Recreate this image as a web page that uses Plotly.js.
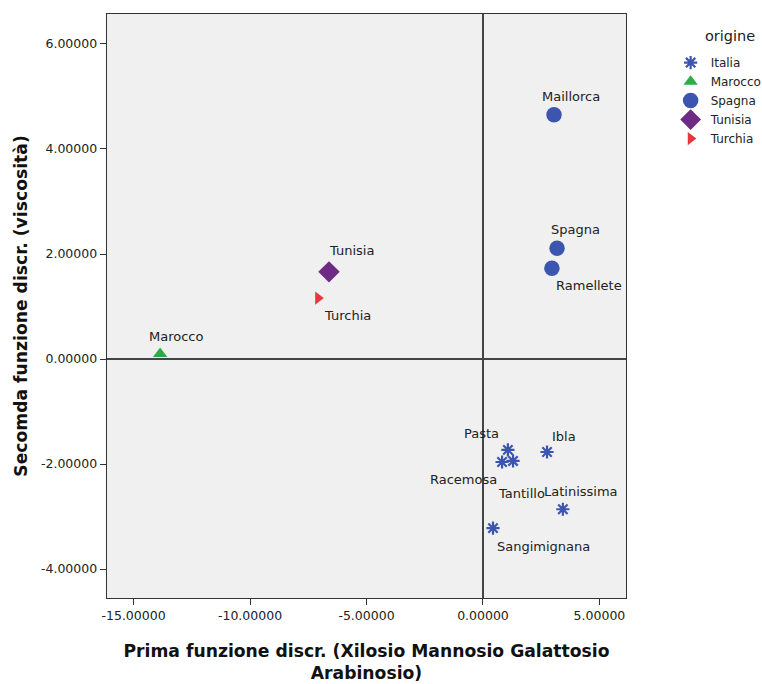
<!DOCTYPE html>
<html>
<head>
<meta charset="utf-8">
<script src="https://cdn.plot.ly/plotly-3.0.1.min.js"></script>
<style>html,body{margin:0;padding:0;background:#fff;}#chart{width:762px;height:684px;}</style>
</head>
<body>
<div id="chart"></div>
<script>
// Data
const origins = ["Italia", "Marocco", "Spagna", "Tunisia", "Turchia"];

const italiaNames = ["Pasta", "Ibla", "Racemosa", "Tantillo", "Latinissima", "Sangimignana"];
const italiaX = [1.07, 2.75, 0.82, 1.29, 3.43, 0.43];
const italiaY = [-1.73, -1.77, -1.96, -1.94, -2.86, -3.22];

const maroccoNames = ["Marocco"];
const maroccoX = [-13.86];
const maroccoY = [0.10];

const spagnaNames = ["Maillorca", "Spagna", "Ramellete"];
const spagnaX = [3.05, 3.18, 2.96];
const spagnaY = [4.65, 2.11, 1.73];

const tunisiaNames = ["Tunisia"];
const tunisiaX = [-6.61];
const tunisiaY = [1.66];

const turchiaNames = ["Turchia"];
const turchiaX = [-7.08];
const turchiaY = [1.16];

const xTickVals = [-15, -10, -5, 0, 5];
const yTickVals = [-4, -2, 0, 2, 4, 6];

const legendTitle = "origine";

// Styles (kept separate from data)
const FONT = "DejaVu Sans, Verdana, sans-serif";
const styles = {
  Italia:  {symbol: "asterisk-open", color: "#3c56b0", size: 11, line: 2.2},
  Marocco: {symbol: "triangle-up", color: "#2eab47", size: 12.5},
  Spagna:  {symbol: "circle", color: "#3c56b0", size: 15.5},
  Tunisia: {symbol: "diamond", color: "#6e2a84", size: 16.5},
  Turchia: {symbol: "triangle-right", color: "#e6373d", size: 11.5}
};
// label offsets in pixels (dx right, dy up)
const labelOffsets = {
  "Maillorca": [17, 18], "Spagna": [18, 19], "Ramellete": [37, -17],
  "Tunisia": [22, 21], "Turchia": [29, -17], "Marocco": [16, 17],
  "Pasta": [-26, 16], "Ibla": [17, 16], "Racemosa": [-39, -18],
  "Tantillo": [8, -33], "Latinissima": [18, 18], "Sangimignana": [51, -18]
};

const groups = [
  ["Italia", italiaNames, italiaX, italiaY],
  ["Marocco", maroccoNames, maroccoX, maroccoY],
  ["Spagna", spagnaNames, spagnaX, spagnaY],
  ["Tunisia", tunisiaNames, tunisiaX, tunisiaY],
  ["Turchia", turchiaNames, turchiaX, turchiaY]
];

const traces = [];
const annotations = [];
groups.forEach(([origin, names, xs, ys]) => {
  const s = styles[origin];
  const marker = {symbol: s.symbol, color: s.color, size: s.size};
  if (s.line) marker.line = {color: s.color, width: s.line};
  else marker.line = {width: 0};
  traces.push({
    type: "scatter", mode: "markers", name: origin,
    x: xs, y: ys, text: names, marker: marker, hoverinfo: "text+x+y"
  });
  names.forEach((n, i) => {
    const off = labelOffsets[n] || [0, 0];
    annotations.push({
      x: xs[i], y: ys[i], xref: "x", yref: "y", text: n, showarrow: false,
      xshift: off[0], yshift: off[1],
      font: {family: FONT, size: 13, color: "#222"}
    });
  });
});

annotations.push({
  xref: "paper", yref: "paper", x: 1.2004, y: 1.0, yshift: -22,
  xanchor: "center", yanchor: "middle", showarrow: false,
  text: legendTitle, font: {family: FONT, size: 14.5, color: "#222"}
});

const tickFmt = v => v.toFixed(5);

const layout = {
  width: 762, height: 684,
  margin: {l: 107, r: 136, t: 14, b: 86, autoexpand: false},
  paper_bgcolor: "#ffffff",
  plot_bgcolor: "#f0f0f0",
  font: {family: FONT, size: 12, color: "#222"},
  showlegend: true,
  legend: {
    x: 1.086, xanchor: "left", y: 0.9417, yanchor: "top",
    bgcolor: "rgba(0,0,0,0)",
    font: {family: FONT, size: 12, color: "#222"},
    tracegroupgap: 0
  },
  xaxis: {
    range: [-16.14, 6.14],
    tickvals: xTickVals, ticktext: xTickVals.map(tickFmt),
    ticks: "outside", ticklen: 6, tickcolor: "#333", tickwidth: 1,
    showgrid: false, zeroline: true, zerolinecolor: "#444", zerolinewidth: 1.3,
    showline: true, linecolor: "#333", linewidth: 1.3, mirror: true,
    tickfont: {family: FONT, size: 12.5, color: "#222"},
    title: {text: "<b>Prima funzione discr. (Xilosio Mannosio Galattosio<br>Arabinosio)</b>",
            font: {family: FONT, size: 17.2, color: "#111"}, standoff: 22}
  },
  yaxis: {
    range: [-4.55, 6.57],
    tickvals: yTickVals, ticktext: yTickVals.map(tickFmt),
    ticks: "outside", ticklen: 6, tickcolor: "#333", tickwidth: 1,
    showgrid: false, zeroline: true, zerolinecolor: "#444", zerolinewidth: 1.3,
    showline: true, linecolor: "#333", linewidth: 1.3, mirror: true,
    tickfont: {family: FONT, size: 12.5, color: "#222"},
    title: {text: "<b>Secomda funzione discr. (viscosità)</b>",
            font: {family: FONT, size: 17.2, color: "#111"}, standoff: 9}
  },
  annotations: annotations
};

Plotly.newPlot("chart", traces, layout, {displayModeBar: false, staticPlot: true});
</script>
</body>
</html>
